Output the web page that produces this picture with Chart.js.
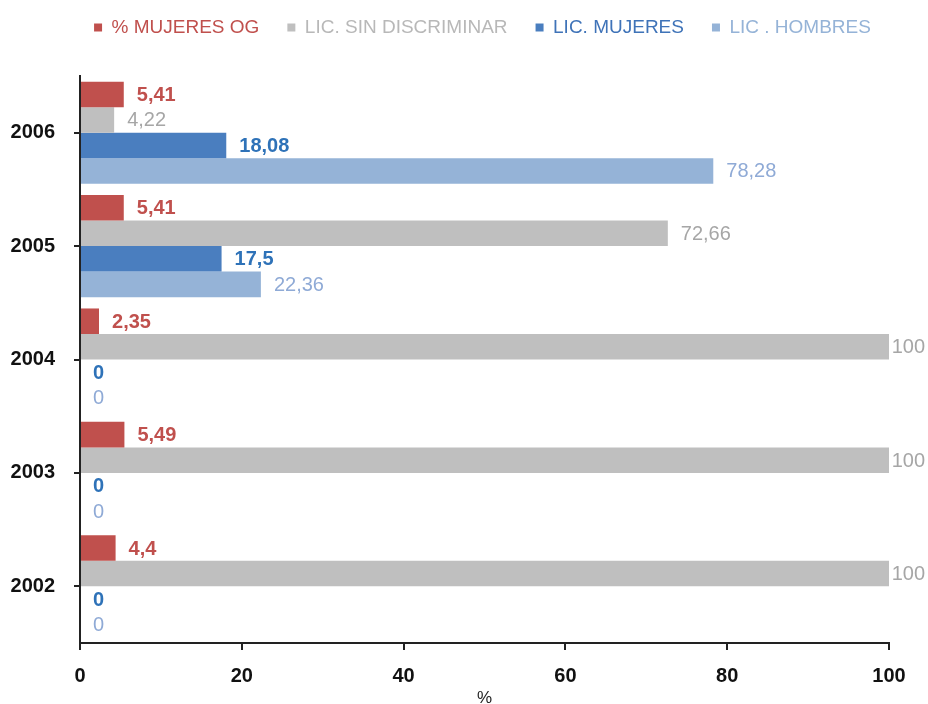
<!DOCTYPE html>
<html>
<head>
<meta charset="utf-8">
<script src="https://cdn.jsdelivr.net/npm/chart.js@4.4.1/dist/chart.umd.min.js"></script>
<style>
  html, body { margin: 0; padding: 0; background: #ffffff; }
  #wrap { width: 928px; height: 704px; }
</style>
</head>
<body>
<div id="wrap"><canvas id="c" width="928" height="704"></canvas></div>
<script>
// ---- DATA ----
const years = ['2006', '2005', '2004', '2003', '2002'];
const mujeresOG = [5.41, 5.41, 2.35, 5.49, 4.4];
const sinDiscriminar = [4.22, 72.66, 100, 100, 100];
const licMujeres = [18.08, 17.5, 0, 0, 0];
const licHombres = [78.28, 22.36, 0, 0, 0];
const seriesNames = ['% MUJERES OG', 'LIC. SIN DISCRIMINAR', 'LIC. MUJERES', 'LIC . HOMBRES'];
const xTicks = [0, 20, 40, 60, 80, 100];

// ---- STYLE ----
const barColors = ['#C0504D', '#BFBFBF', '#4A7EBF', '#95B3D7'];
const legendTextColors = ['#C0504D', '#B8B8B8', '#3F73B8', '#95B3D7'];
const valueColors = ['#C0504D', '#A6A6A6', '#2E72B8', '#8FAAD6'];
const valueWeights = ['bold', 'normal', 'bold', 'normal'];
const FONT = '"Liberation Sans", Arial, sans-serif';

const valueLabels = {
  id: 'valueLabels',
  afterDatasetsDraw(chart) {
    const ctx = chart.ctx;
    ctx.save();
    ctx.textBaseline = 'middle';
    ctx.textAlign = 'left';
    chart.data.datasets.forEach((ds, di) => {
      const meta = chart.getDatasetMeta(di);
      meta.data.forEach((bar, i) => {
        const v = ds.data[i];
        const txt = String(v).replace('.', ',');
        ctx.font = valueWeights[di] + ' 20px ' + FONT;
        const w = ctx.measureText(txt).width;
        let x = bar.x + 13;
        x = Math.min(x, chart.width - w - 3);
        ctx.fillStyle = valueColors[di];
        ctx.fillText(txt, x, bar.y + 1);
      });
    });
    ctx.restore();
  }
};

// extra space below the legend and a small horizontal shift of its box
const legendSpace = {
  id: 'legendSpace',
  beforeLayout(chart) {
    const lg = chart.legend;
    if (lg && !lg._spacePatched) {
      const orig = lg.fit;
      lg.fit = function () { orig.call(this); this.height += 29; };
      lg._spacePatched = true;
    }
  },
  afterLayout(chart) {
    const lg = chart.legend;
    if (lg) { lg.left += 38; lg.right += 38; }
  }
};

const datasets = [mujeresOG, sinDiscriminar, licMujeres, licHombres].map((arr, i) => ({
  label: seriesNames[i],
  data: arr,
  backgroundColor: barColors[i],
  borderWidth: 0,
  categoryPercentage: 0.9,
  barPercentage: 1.0
}));

new Chart(document.getElementById('c'), {
  type: 'bar',
  data: { labels: years, datasets },
  plugins: [valueLabels, legendSpace],
  options: {
    indexAxis: 'y',
    responsive: false,
    animation: false,
    layout: { padding: { top: -10, right: 39, bottom: 0, left: 0 } },
    plugins: {
      tooltip: { enabled: false },
      legend: {
        position: 'top',
        labels: {
          boxWidth: 8,
          boxHeight: 8,
          padding: 28,
          font: { family: FONT, size: 19 },
          generateLabels(chart) {
            return chart.data.datasets.map((ds, i) => ({
              text: ds.label,
              fillStyle: barColors[i],
              strokeStyle: barColors[i],
              lineWidth: 0,
              fontColor: legendTextColors[i],
              hidden: false,
              datasetIndex: i
            }));
          }
        }
      }
    },
    scales: {
      x: {
        min: 0,
        max: 100,
        afterFit(s) { s.height = 61; },
        afterBuildTicks(s) { s.ticks = xTicks.map(v => ({ value: v })); },
        grid: { drawOnChartArea: false, drawTicks: true, tickLength: 7, color: '#222', lineWidth: 2 },
        border: { display: true, color: '#222', width: 2 },
        ticks: { color: '#111', font: { family: FONT, size: 20, weight: 'bold' }, padding: 14 },
        title: { display: true, text: '%', color: '#222', font: { family: FONT, size: 17 }, padding: { top: 0, bottom: -5 } }
      },
      y: {
        afterFit(s) { s.width = 80; },
        grid: { offset: false, drawOnChartArea: false, drawTicks: true, tickLength: 6, color: '#222', lineWidth: 2 },
        border: { display: true, color: '#222', width: 2 },
        ticks: { color: '#111', font: { family: FONT, size: 20, weight: 'bold' }, padding: 19 }
      }
    }
  }
});
</script>
</body>
</html>
